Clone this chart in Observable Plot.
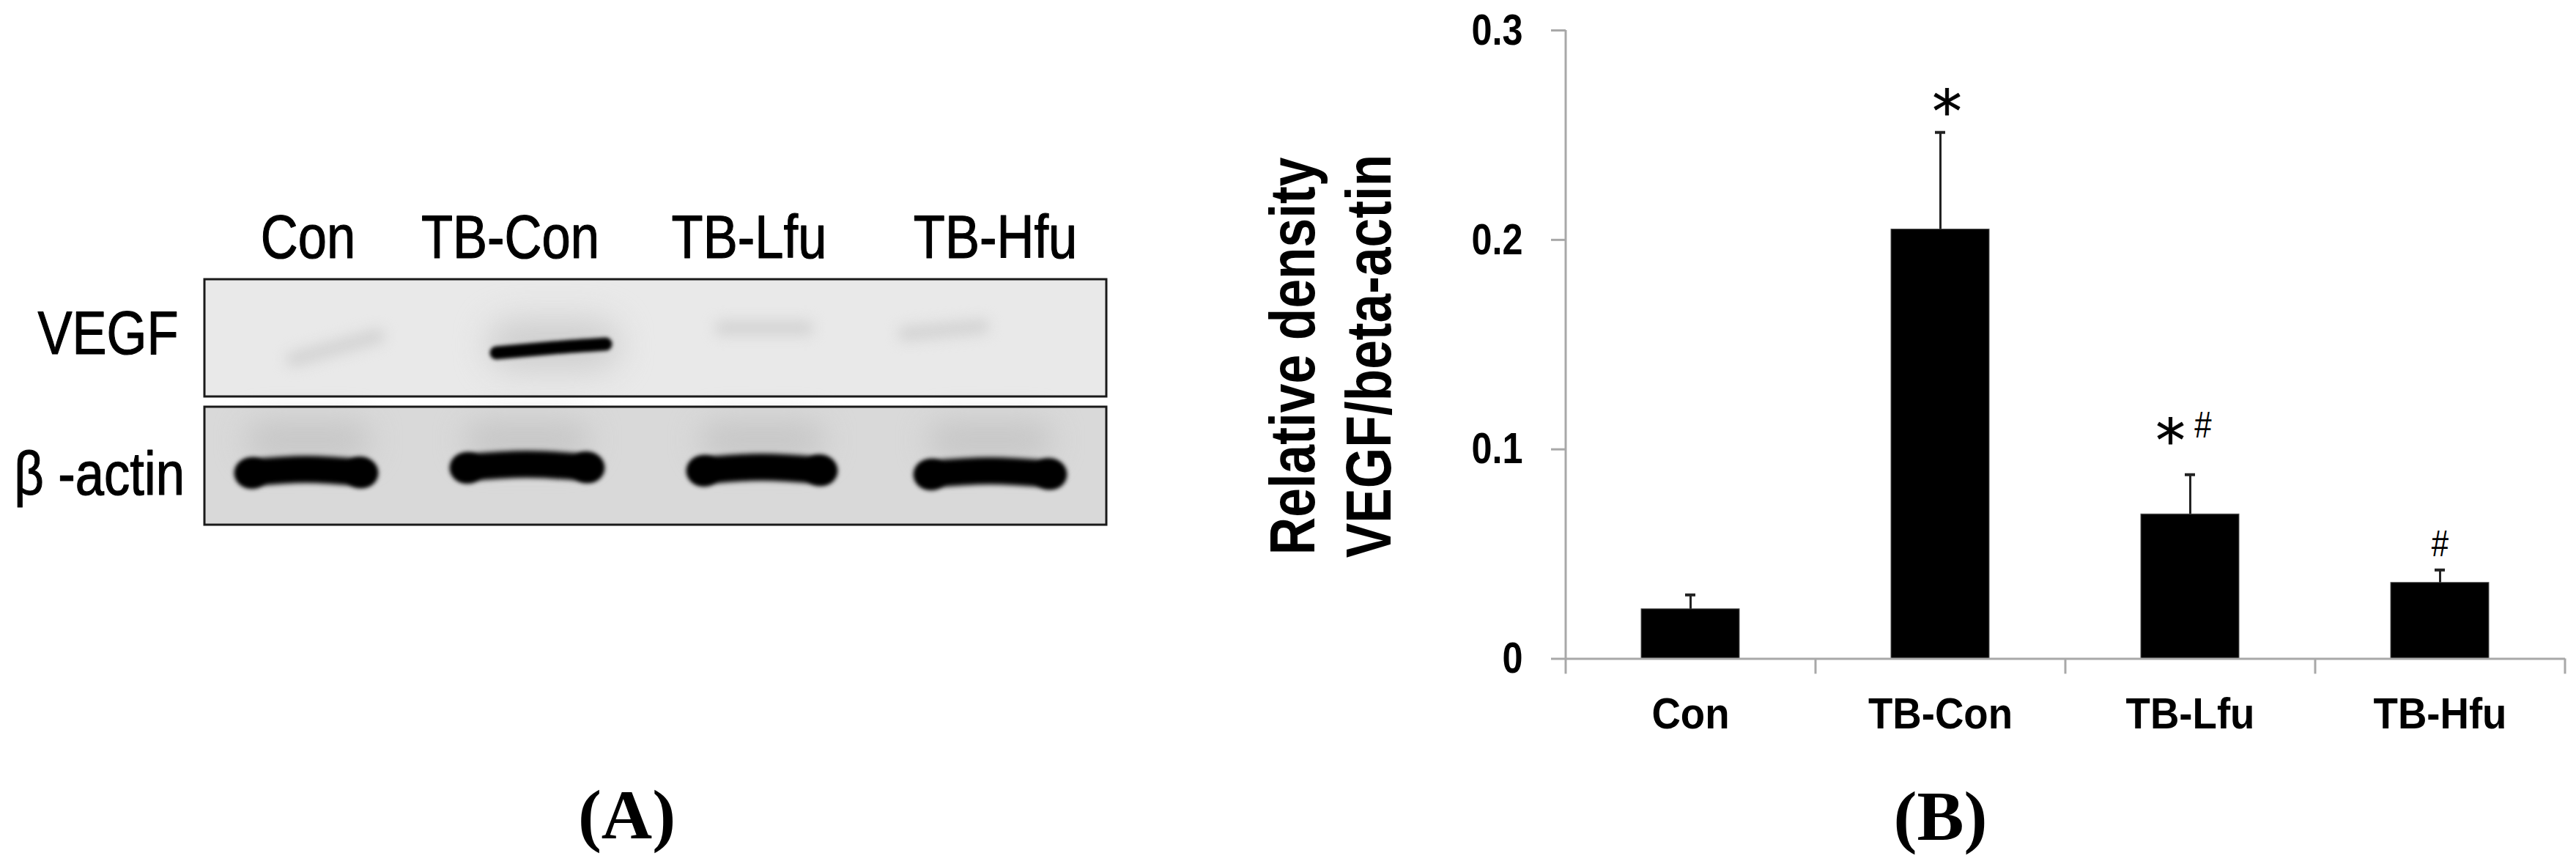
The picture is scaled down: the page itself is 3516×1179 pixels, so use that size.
<!DOCTYPE html>
<html>
<head>
<meta charset="utf-8">
<script src="https://cdn.jsdelivr.net/npm/d3@7"></script>
<script src="https://cdn.jsdelivr.net/npm/@observablehq/plot@0.6"></script>
<style>
html,body{margin:0;padding:0;background:#fff}
#fig{display:flex;width:3516px;height:1179px}
#fig svg{display:block;flex:none;background:#fff}
</style>
</head>
<body>
<div id="fig"></div>
<script>
// Chart values (panel B)
const groups = ["Con", "TB-Con", "TB-Lfu", "TB-Hfu"];
const means = [0.0237, 0.205, 0.069, 0.0363];
const errorTops = [0.0305, 0.2513, 0.0879, 0.0424];
const yTicks = [0, 0.1, 0.2, 0.3];
const sigGroups = ["TB-Con", "TB-Lfu", "TB-Lfu", "TB-Hfu"];
const sigMarks = ["*", "*", "#", "#"];
const sigLevels = [0.2605, 0.1035, 0.1113, 0.0545];
const titleLines = ["Relative density", "VEGF/beta-actin"];

// Blot (panel A), read in gel coordinates
const laneLabelX = [420, 696, 1022, 1358];
const laneLabelY = 325;
const rowNames = ["VEGF", "β -actin"];
const rowLabelX = [147, 135];
const rowLabelY = [456, 648];
const panelX = [279, 1510];
const panelTop = [381, 555];
const panelBottom = [541, 716];
const panelFill = ["#e9e9e9", "#d9d9d9"];
const actinX1 = [338, 632, 955, 1265];
const actinX2 = [497, 806, 1124, 1437];
const actinY = [644, 637, 641, 646];
const vegfBandX = [677, 755, 826];
const vegfBandY = [481, 474, 469];
const traceX1 = [400, 985, 1235];
const traceX2 = [515, 1100, 1340];
const traceY1 = [490, 447, 455];
const traceY2 = [458, 447, 445];
const haloX = [420, 719, 1040, 1351];

const narrow = "'Arial Narrow','Liberation Sans',sans-serif";
const wide = "'Liberation Sans',Arial,sans-serif";
const serif = "'Liberation Serif','Times New Roman',serif";

const idx = d3.range(4);
const actinLines = idx.flatMap(i => [
  {lane: i, x: actinX1[i], y: actinY[i] + 1},
  {lane: i, x: (actinX1[i] + actinX2[i]) / 2, y: actinY[i] - 4},
  {lane: i, x: actinX2[i], y: actinY[i] + 1}
]);
const actinEnds = idx.flatMap(i => [
  {x: actinX1[i] + 6, y: actinY[i] + 1},
  {x: actinX2[i] - 6, y: actinY[i]}
]);
const traces = traceX1.flatMap((x, i) => [{i, x, y: traceY1[i]}, {i, x: traceX2[i], y: traceY2[i]}]);

const blot = Plot.plot({
  width: 1680, height: 1179,
  marginTop: 0, marginRight: 0, marginBottom: 0, marginLeft: 0,
  x: {domain: [0, 1680], range: [0, 1680], axis: null},
  y: {domain: [0, 1179], range: [0, 1179], axis: null},
  marks: [
    Plot.rect([0, 1], {
      x1: () => panelX[0], x2: () => panelX[1],
      y1: i => panelTop[i], y2: i => panelBottom[i],
      fill: i => panelFill[i]
    }),
    // smear above the actin bands
    Plot.line(haloX.flatMap((x, i) => [{i, x: x - 60, y: 600}, {i, x: x + 60, y: 600}]), {
      x: "x", y: "y", z: "i", stroke: "#c6c6c6", strokeWidth: 50,
      strokeLinecap: "round", imageFilter: "blur(20px)"
    }),
    // halo round the VEGF band
    Plot.line([{x: 700, y: 470}, {x: 810, y: 470}], {
      x: "x", y: "y", stroke: "#cfcfcf", strokeWidth: 70,
      strokeLinecap: "round", imageFilter: "blur(22px)"
    }),
    // faint traces in the VEGF row
    Plot.line(traces, {
      x: "x", y: "y", z: "i", stroke: "#d3d3d3", strokeWidth: 20,
      strokeLinecap: "round", imageFilter: "blur(9px)"
    }),
    // VEGF band
    Plot.line(vegfBandX.map((x, i) => ({x, y: vegfBandY[i]})), {
      x: "x", y: "y", curve: "natural", stroke: "#000", strokeWidth: 18,
      strokeLinecap: "round", imageFilter: "blur(2.6px)"
    }),
    // actin bands
    Plot.line(actinLines, {
      x: "x", y: "y", z: "lane", curve: "natural", stroke: "#000", strokeWidth: 37,
      strokeLinecap: "round", imageFilter: "blur(3.2px)"
    }),
    Plot.dot(actinEnds, {
      x: "x", y: "y", r: 21, fill: "#000", imageFilter: "blur(3.2px)"
    }),
    // frames
    Plot.rect([0, 1], {
      x1: () => panelX[0], x2: () => panelX[1],
      y1: i => panelTop[i], y2: i => panelBottom[i],
      fill: "none", stroke: "#1a1a1a", strokeWidth: 3
    }),
    Plot.text(groups, {
      x: (d, i) => laneLabelX[i], y: () => laneLabelY, text: d => d,
      fontFamily: narrow, fontSize: 84, fill: "#000", stroke: "#000", strokeWidth: 1.2,
      lineAnchor: "middle", imageFilter: "blur(0.7px)"
    }),
    Plot.text(rowNames, {
      x: (d, i) => rowLabelX[i], y: (d, i) => rowLabelY[i], text: d => d,
      fontFamily: narrow, fontSize: 84, fill: "#000", stroke: "#000", strokeWidth: 1.2,
      lineAnchor: "middle", imageFilter: "blur(0.7px)"
    }),
    Plot.text(["(A)"], {
      x: () => 855, y: () => 1113, text: d => d,
      fontFamily: serif, fontWeight: "bold", fontSize: 96, fill: "#000", lineAnchor: "middle"
    })
  ]
});

const rows = groups.map((g, i) => ({group: g, mean: means[i], top: errorTops[i]}));
const sig = sigMarks.map((m, i) => ({group: sigGroups[i], mark: m, level: sigLevels[i]}));
const sigDx = [9, -27, 17.5, 0];
const titleDx = [-372, -268];
const halfStep = 170.5;
const axisGrey = "#a8a8a8";

const bars = Plot.plot({
  width: 1836, height: 1179,
  marginTop: 41, marginRight: 15, marginBottom: 280.5, marginLeft: 457,
  x: {domain: groups, paddingInner: 0.607, paddingOuter: 0.3035, align: 0.5, axis: null, label: null},
  y: {domain: [0, 0.3], axis: null, label: null},
  marks: [
    Plot.barY(rows, {x: "group", y: "mean", fill: "#000", stroke: "#555", strokeWidth: 1}),
    // baseline, y axis line and category boundary ticks
    Plot.ruleY([0], {stroke: axisGrey, strokeWidth: 3}),
    Plot.ruleX([groups[0]], {x: d => d, y1: 0, y2: 0.3, dx: -halfStep, stroke: axisGrey, strokeWidth: 3}),
    Plot.ruleX(groups, {x: d => d, y1: 0, y2: -0.0073, dx: -halfStep, stroke: axisGrey, strokeWidth: 3}),
    Plot.ruleX([groups[3]], {x: d => d, y1: 0, y2: -0.0073, dx: halfStep, stroke: axisGrey, strokeWidth: 3}),
    Plot.axisY({
      ticks: yTicks, tickFormat: d => d === 0 ? "0" : d3.format(".1f")(d),
      tickSize: 20, tickPadding: 39, label: null,
      stroke: axisGrey, strokeWidth: 3, fill: "#000",
      fontFamily: narrow, fontWeight: "bold", fontSize: 60,
      marginLeft: 457
    }),
    Plot.axisX({
      tickSize: 0, tickPadding: 52, label: null, lineAnchor: "top",
      fontFamily: narrow, fontWeight: "bold", fontSize: 60, fill: "#000"
    }),
    // error bars
    Plot.ruleX(rows, {x: "group", y1: "mean", y2: "top", stroke: "#222", strokeWidth: 3}),
    Plot.tickY(rows, {x: "group", y: "top", stroke: "#222", strokeWidth: 4, insetLeft: 60, insetRight: 60}),
    // significance marks
    ...sig.map((d, i) => Plot.text([d], d.mark === "*" ? {
      x: "group", y: "level", text: "mark", dx: sigDx[i],
      fontFamily: "'DejaVu Sans',sans-serif", fontSize: 80, fill: "#000",
      stroke: "#000", strokeWidth: 0.8, lineAnchor: "middle"
    } : {
      x: "group", y: "level", text: "mark", dx: sigDx[i],
      fontFamily: narrow, fontSize: 50, fill: "#000", lineAnchor: "middle"
    })),
    // y title
    ...titleLines.map((t, i) => Plot.text([t], {
      frameAnchor: "left", y: () => 0.1445, text: d => d, dx: titleDx[i],
      textAnchor: "middle", rotate: -90, fontFamily: wide, fontWeight: "bold", fontSize: 88,
      fill: "#000", lineAnchor: "middle"
    })),
    Plot.text(["(B)"], {
      x: () => groups[1], y: () => -0.0755, text: d => d,
      fontFamily: serif, fontWeight: "bold", fontSize: 96, fill: "#000", lineAnchor: "middle"
    })
  ]
});

document.getElementById("fig").append(blot, bars);

// Condense labels to the reference's proportions (no narrow face is installed)
document.querySelectorAll("#fig svg text").forEach(t => {
  const family = t.closest("[font-family]")?.getAttribute("font-family") || "";
  const label = t.textContent;
  let ratio = 0;
  if (titleLines.includes(label)) ratio = 0.81;
  else if (family.includes("Narrow")) ratio = t.closest("svg") === bars && groups.includes(label) ? 0.91 : 0.84;
  if (ratio) {
    t.setAttribute("textLength", t.getComputedTextLength() * ratio);
    t.setAttribute("lengthAdjust", "spacingAndGlyphs");
  }
});
</script>
</body>
</html>
